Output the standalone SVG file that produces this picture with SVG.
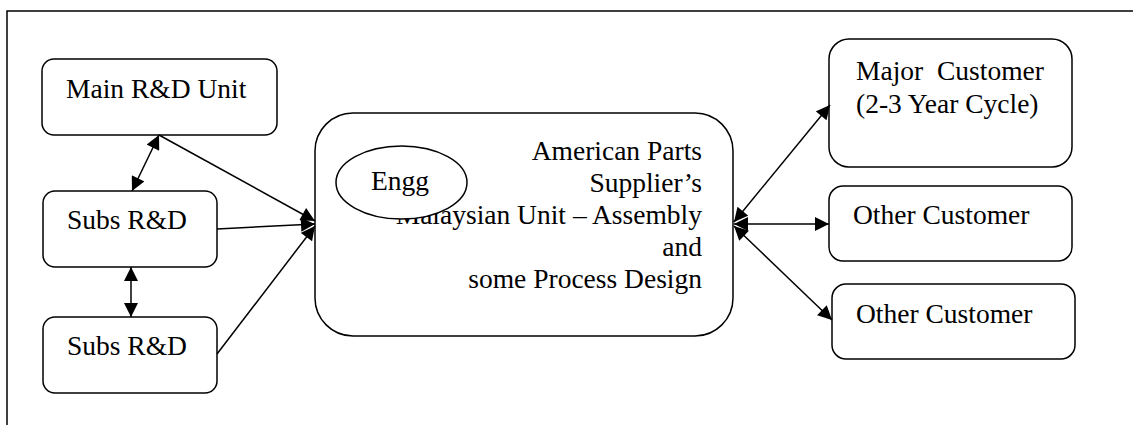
<svg xmlns="http://www.w3.org/2000/svg" width="1133" height="425" viewBox="0 0 1133 425">
<style>
.box{fill:#fff;stroke:#000;stroke-width:1.5}
.t{font-family:"Liberation Serif","Times New Roman",serif;font-size:27.5px;fill:#000}
.r{text-anchor:end}
.c{fill:none;stroke:#000;stroke-width:1.5}
</style>
<defs>
<marker id="ah" viewBox="0 0 10 10" refX="10" refY="5" markerWidth="15" markerHeight="14" markerUnits="userSpaceOnUse" orient="auto-start-reverse">
<path d="M0,0 L10,5 L0,10 z" fill="#000"/>
</marker>
</defs>
<rect width="1133" height="425" fill="#fff"/>
<path d="M7,430 L7,11 L1140,11" fill="none" stroke="#000" stroke-width="1.5"/>
<g id="main-rd">
<rect class="box" x="42" y="59" width="235" height="76" rx="12"/>
<text class="t" x="66" y="98">Main R&amp;D Unit</text>
</g>
<g id="subs-rd-1">
<rect class="box" x="43" y="191" width="174" height="76" rx="12"/>
<text class="t" x="67" y="229">Subs R&amp;D</text>
</g>
<g id="subs-rd-2">
<rect class="box" x="43" y="317" width="174" height="76" rx="12"/>
<text class="t" x="67" y="355">Subs R&amp;D</text>
</g>
<g id="american-parts">
<rect class="box" x="315" y="113" width="418" height="223" rx="38"/>
<text class="t r" x="702" y="160">American Parts</text>
<text class="t r" x="702" y="192">Supplier’s</text>
<text class="t r" x="702" y="224">Malaysian Unit – Assembly</text>
<text class="t r" x="702" y="256">and</text>
<text class="t r" x="702" y="288">some Process Design</text>
</g>
<g id="engg">
<ellipse class="box" cx="401.5" cy="182.5" rx="65.5" ry="36.5"/>
<text class="t" x="371" y="190">Engg</text>
</g>
<g id="major-customer">
<rect class="box" x="829" y="39" width="243" height="128" rx="20"/>
<text class="t" x="856" y="80" xml:space="preserve">Major  Customer</text>
<text class="t" x="856" y="113">(2-3 Year Cycle)</text>
</g>
<g id="other-customer-1">
<rect class="box" x="829" y="186" width="243" height="75" rx="14"/>
<text class="t" x="853" y="224">Other Customer</text>
</g>
<g id="other-customer-2">
<rect class="box" x="832" y="284" width="243" height="75" rx="14"/>
<text class="t" x="856" y="323">Other Customer</text>
</g>
<g id="connectors">
<line class="c" x1="159" y1="135" x2="132" y2="191" marker-start="url(#ah)" marker-end="url(#ah)"/>
<line class="c" x1="131" y1="267" x2="131" y2="317" marker-start="url(#ah)" marker-end="url(#ah)"/>
<line class="c" x1="159" y1="135" x2="315" y2="221" marker-end="url(#ah)"/>
<line class="c" x1="217" y1="229" x2="315" y2="224" marker-end="url(#ah)"/>
<line class="c" x1="217" y1="354" x2="315" y2="226" marker-end="url(#ah)"/>
<line class="c" x1="734" y1="222" x2="830" y2="105" marker-start="url(#ah)" marker-end="url(#ah)"/>
<line class="c" x1="734" y1="224" x2="829" y2="224" marker-start="url(#ah)" marker-end="url(#ah)"/>
<line class="c" x1="734" y1="226" x2="832" y2="320" marker-start="url(#ah)" marker-end="url(#ah)"/>
</g>
</svg>
